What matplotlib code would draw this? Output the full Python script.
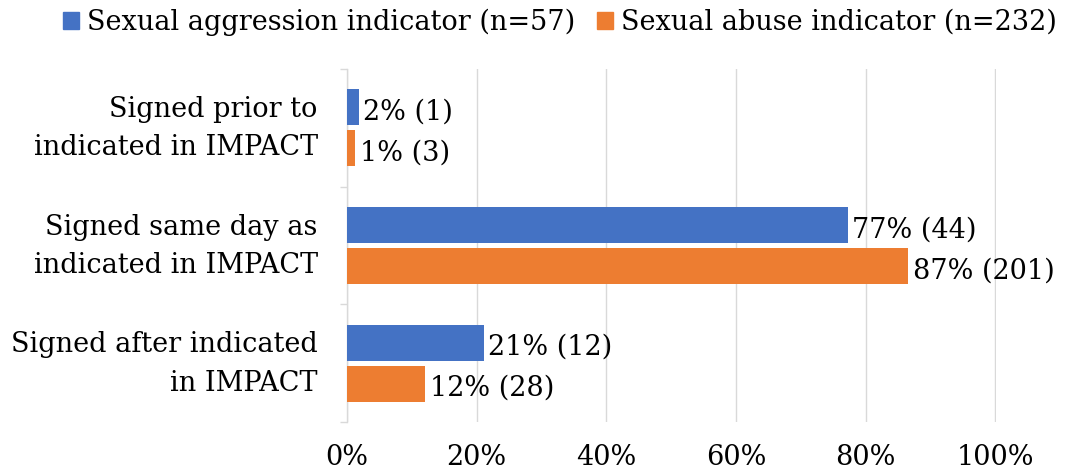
import matplotlib
matplotlib.use("Agg")
import matplotlib.pyplot as plt
from matplotlib.patches import Patch
from matplotlib.transforms import ScaledTranslation
import numpy as np

categories = ["Signed prior to\nindicated in IMPACT",
              "Signed same day as\nindicated in IMPACT",
              "Signed after indicated\nin IMPACT"]
series_names = ["Sexual aggression indicator (n=57)",
                "Sexual abuse indicator (n=232)"]
aggression_pct = [1.8, 77.2, 21.1]
abuse_pct = [1.3, 86.6, 12.1]
aggression_labels = ["2% (1)", "77% (44)", "21% (12)"]
abuse_labels = ["1% (3)", "87% (201)", "12% (28)"]
xticks = [0, 20, 40, 60, 80, 100]
xtick_labels = ["0%", "20%", "40%", "60%", "80%", "100%"]

BLUE = "#4472C4"
ORANGE = "#ED7D31"
GRID = "#D9D9D9"
FONT = "DejaVu Serif"
FS = 19.5

plt.rcParams['font.family'] = [FONT]

fig = plt.figure(figsize=(10.75, 4.73), dpi=100)
ax = fig.add_axes([347/1075, 1 - 422/473, (996 - 347)/1075, (422 - 69)/473])

y = np.arange(len(categories))
h = 0.305
off = 0.175
ax.barh(y - off, aggression_pct, height=h, color=BLUE, zorder=3)
ax.barh(y + off, abuse_pct, height=h, color=ORANGE, zorder=3)

for yi, v, lab in zip(y - off, aggression_pct, aggression_labels):
    ax.text(v + 0.7, yi + 0.04, lab, va="center", ha="left", fontsize=FS, color="#000000")
for yi, v, lab in zip(y + off, abuse_pct, abuse_labels):
    ax.text(v + 0.7, yi + 0.04, lab, va="center", ha="left", fontsize=FS, color="#000000")

ax.set_xlim(0, 100.1)
ax.set_ylim(len(categories) - 0.5, -0.5)
ax.set_xticks(xticks)
ax.set_xticklabels(xtick_labels, fontsize=FS)
ax.tick_params(axis="x", length=0, pad=16)
ax.set_yticks(y)
ax.set_yticklabels(categories, fontsize=FS, linespacing=1.55)
ax.tick_params(axis="y", which="major", length=0, pad=21)
shift = ScaledTranslation(0, 8/100, fig.dpi_scale_trans)
for lbl in ax.get_yticklabels():
    lbl.set_transform(lbl.get_transform() + shift)
ax.set_yticks(np.arange(-0.5, len(categories), 1.0), minor=True)
ax.tick_params(axis="y", which="minor", length=5, color=GRID, width=1)

ax.grid(axis="x", color=GRID, linewidth=1, zorder=0)
for s in ["top", "right", "bottom"]:
    ax.spines[s].set_visible(False)
ax.spines["left"].set_color(GRID)
ax.spines["left"].set_linewidth(1)

handles = [Patch(color=BLUE), Patch(color=ORANGE)]
fig.legend(handles, series_names, loc="center", bbox_to_anchor=(560/1075, 1 - 22/473),
           ncol=2, frameon=False, fontsize=FS, handlelength=0.6, handleheight=0.6,
           handletextpad=0.3, columnspacing=0.8, borderaxespad=0)

fig.savefig("out.png", dpi=100, facecolor="white")
